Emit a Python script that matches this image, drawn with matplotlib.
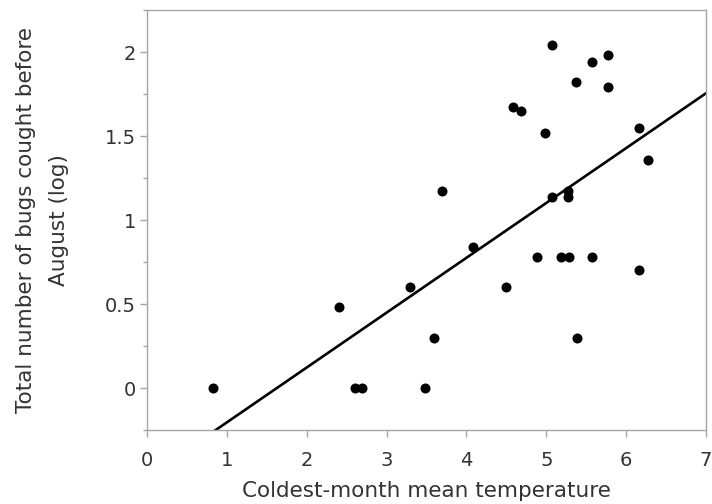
import numpy as np
import matplotlib
matplotlib.use('Agg')
import matplotlib.pyplot as plt
from matplotlib.ticker import MultipleLocator

# Values
temperature = [0.83, 2.41, 2.61, 2.69, 3.29, 3.48, 3.60, 3.69, 4.08, 4.49,
               4.58, 4.68, 4.88, 4.99, 5.07, 5.07, 5.18, 5.27, 5.27, 5.28,
               5.37, 5.38, 5.57, 5.57, 5.77, 5.77, 6.16, 6.16, 6.27]
bugs_log = [0.00, 0.48, 0.00, 0.00, 0.60, 0.00, 0.30, 1.17, 0.84, 0.60,
            1.67, 1.65, 0.78, 1.52, 2.04, 1.14, 0.78, 1.17, 1.14, 0.78,
            1.82, 0.30, 1.94, 0.78, 1.98, 1.79, 1.55, 0.70, 1.36]
# regression line as drawn in the reference
fit_slope = 0.3265
fit_intercept = -0.531
x_ticks = [0, 1, 2, 3, 4, 5, 6, 7]
y_ticks = [0, 0.5, 1, 1.5, 2]
y_tick_labels = ['0', '0.5', '1', '1.5', '2']

text_color = '#333333'
axis_color = '#a6a6a6'

fig = plt.figure(figsize=(7.12, 5.04), dpi=100)
ax = fig.add_axes([0.2065, 0.1468, 0.785, 0.8333])

ax.scatter(temperature, bugs_log, s=52, color='black', zorder=3, linewidths=0)

xs = np.array([0, 7])
ax.plot(xs, fit_slope * xs + fit_intercept, color='black', linewidth=1.9, zorder=2)

ax.set_xlim(0, 7)
ax.set_ylim(-0.25, 2.25)
ax.set_xticks(x_ticks)
ax.set_yticks(y_ticks)
ax.set_yticklabels(y_tick_labels)
ax.yaxis.set_minor_locator(MultipleLocator(0.25))

for sp in ax.spines.values():
    sp.set_color(axis_color)
    sp.set_linewidth(1.0)

ax.tick_params(axis='both', which='major', colors=axis_color, labelcolor=text_color,
               labelsize=14, length=5, width=1)
ax.tick_params(axis='y', which='minor', colors=axis_color, length=3, width=1)
ax.tick_params(axis='x', pad=10)
ax.tick_params(axis='y', pad=3)

ax.set_xlabel('Coldest-month mean temperature', fontsize=15.5, color=text_color, labelpad=8)
ax.set_ylabel('Total number of bugs cought before\nAugust (log)', fontsize=15.5,
              color=text_color, labelpad=25.5, linespacing=1.85)

fig.savefig('out.png', dpi=100)
plt.close(fig)
